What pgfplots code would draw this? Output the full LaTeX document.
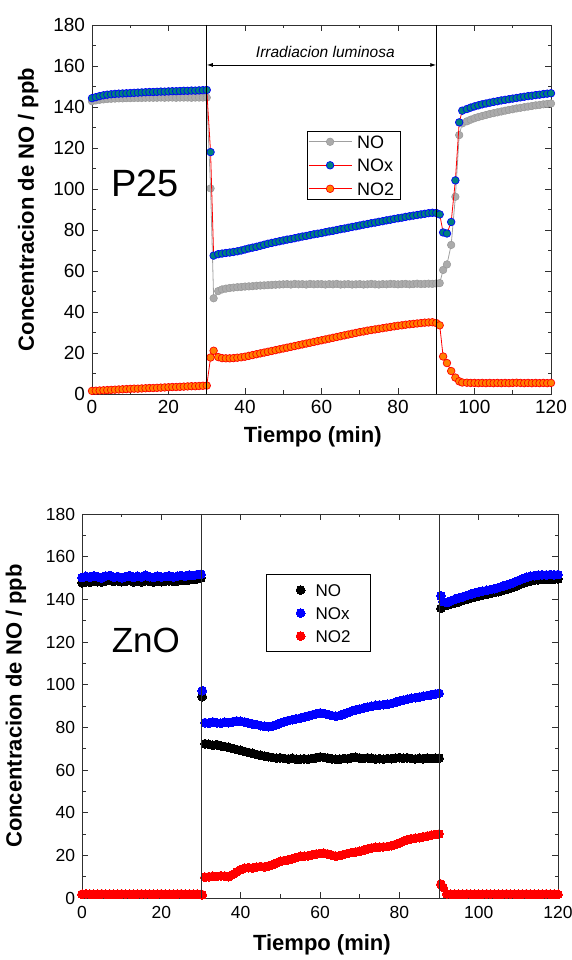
\documentclass[border=0pt]{standalone}
\usepackage{fontspec}
\setmainfont{Liberation Sans}
\usepackage{pgfplots}
\pgfplotsset{compat=1.18}
\usepackage{pgfplotstable}
\usetikzlibrary{arrows.meta}

\definecolor{nogray}{HTML}{A0A0A0}
\definecolor{grayfill}{HTML}{ABABAB}
\definecolor{grayedge}{HTML}{989898}
\definecolor{tealfill}{HTML}{00807F}
\definecolor{orangefill}{HTML}{FF7F00}
\definecolor{frame}{HTML}{303030}

\pgfplotstableread{
t NO NOx NO2
0 142.8 144.3 1.5
1 143.2 144.8 1.6
2 143.5 145.3 1.7
3 143.7 145.7 1.8
4 143.9 146.0 1.9
5 144.0 146.2 2.0
6 144.1 146.4 2.1
7 144.2 146.5 2.2
8 144.2 146.6 2.3
9 144.3 146.7 2.4
10 144.3 146.8 2.5
11 144.4 146.9 2.6
12 144.4 147.0 2.6
13 144.4 147.1 2.7
14 144.5 147.2 2.8
15 144.5 147.3 2.9
16 144.5 147.3 2.9
17 144.5 147.4 3.0
18 144.6 147.5 3.1
19 144.5 147.5 3.2
20 144.6 147.6 3.3
21 144.6 147.7 3.4
22 144.5 147.7 3.4
23 144.6 147.8 3.5
24 144.6 147.9 3.6
25 144.6 147.9 3.7
26 144.5 148.0 3.8
27 144.6 148.0 3.8
28 144.6 148.1 3.9
29 144.6 148.2 4.0
30 144.6 148.3 4.1
31 100.3 118.0 17.8
31.8 46.7 67.5 21.1
33 50.2 68.2 18.0
34 51.0 68.5 17.5
35 51.4 68.8 17.4
36 51.7 69.0 17.4
37 51.9 69.3 17.5
38 52.1 69.6 17.7
39 52.2 70.0 17.9
40 52.4 70.5 18.2
41 52.5 71.0 18.6
42 52.6 71.4 19.0
43 52.8 71.8 19.4
44 52.9 72.3 19.8
45 53.0 72.8 20.2
46 53.1 73.3 20.6
47 53.2 73.7 21.0
48 53.3 74.1 21.4
49 53.4 74.5 21.8
50 53.5 74.9 22.2
51 53.6 75.3 22.6
52 53.4 75.6 23.0
53 53.7 76.0 23.4
54 53.5 76.4 23.8
55 53.6 76.8 24.2
56 53.4 77.1 24.6
57 53.7 77.5 25.0
58 53.5 77.9 25.4
59 53.6 78.2 25.8
60 53.6 78.5 26.2
61 53.4 78.9 26.6
62 53.6 79.3 27.0
63 53.5 79.6 27.4
64 53.7 80.0 27.8
65 53.4 80.4 28.2
66 53.5 80.7 28.6
67 53.6 81.1 29.0
68 53.4 81.5 29.4
69 53.5 81.8 29.8
70 53.6 82.2 30.2
71 53.4 82.6 30.5
72 53.5 82.9 30.9
73 53.7 83.3 31.2
74 53.5 83.6 31.5
75 53.4 84.0 31.8
76 53.6 84.3 32.1
77 53.5 84.7 32.4
78 53.7 85.0 32.7
79 53.6 85.4 33.0
80 53.5 85.7 33.3
81 53.6 86.0 33.5
82 53.7 86.4 33.8
83 53.5 86.7 34.0
84 53.6 87.0 34.2
85 53.8 87.3 34.4
86 53.6 87.6 34.6
87 53.7 87.9 34.8
88 53.8 88.2 34.9
89 53.7 88.4 35.0
90 53.9 88.3 34.6
90.9 54.1 87.6 33.5
91.8 60.5 78.8 18.3
92.8 63.2 78.3 15.1
93.9 72.7 83.9 11.2
95.0 96.2 104.2 8.0
96.0 126.3 132.5 6.2
96.8 132.0 138.2 5.6
98 133.0 139.0 5.5
99 133.8 139.7 5.4
100 134.5 140.3 5.4
101 135.1 140.8 5.3
102 135.6 141.3 5.4
103 136.1 141.7 5.3
104 136.6 142.1 5.4
105 137.0 142.5 5.3
106 137.4 142.8 5.4
107 137.8 143.2 5.3
108 138.2 143.5 5.4
109 138.6 143.8 5.3
110 138.9 144.1 5.4
111 139.3 144.4 5.5
112 139.6 144.7 5.4
113 139.9 145.0 5.3
114 140.2 145.3 5.4
115 140.5 145.5 5.3
116 140.8 145.8 5.4
117 141.0 146.0 5.3
118 141.3 146.3 5.4
119 141.5 146.5 5.3
120 141.7 146.7 5.4
}\ptop

\pgfplotstableread{
t NO NOx NO2
0 147.8 150.2 1.8
1 148.2 150.8 1.9
2 148.0 150.3 1.8
3 148.5 151.0 1.7
4 148.3 150.5 1.8
5 148.1 150.0 1.9
6 148.6 150.9 1.8
7 148.9 151.2 1.8
8 148.4 150.4 1.7
9 148.7 150.7 1.8
10 148.3 150.1 1.9
11 148.5 150.6 1.8
12 148.9 151.1 1.8
13 148.2 150.3 1.7
14 148.4 150.8 1.8
15 148.2 150.5 1.9
16 148.7 151.3 1.8
17 148.5 150.6 1.8
18 148.1 150.2 1.7
19 148.6 150.9 1.8
20 148.3 150.4 1.9
21 148.5 150.7 1.8
22 148.7 151.0 1.8
23 148.4 150.5 1.7
24 148.6 150.8 1.8
25 149.0 151.2 1.9
26 148.8 150.9 1.8
27 149.2 151.4 1.8
28 149.3 151.2 1.7
29 149.6 151.6 1.8
30 150.0 151.8 1.8
30.3 94.4 97.2 1.5
31 72.3 82.2 9.8
32 72.0 82.0 10.0
33 71.6 82.5 10.2
34 71.9 82.1 10.1
35 71.3 81.9 10.4
36 71.0 82.4 10.3
37 70.6 82.2 10.0
38 70.1 82.6 11.0
39 69.6 83.0 12.2
40 69.2 82.8 13.3
41 68.7 82.5 14.0
42 68.2 82.0 14.2
43 67.8 81.6 14.1
44 67.3 81.3 14.5
45 66.9 80.8 14.8
46 66.5 80.5 14.6
47 66.2 80.3 15.0
48 65.9 80.6 15.6
49 65.6 81.2 16.4
50 65.7 82.0 17.2
51 65.4 82.6 17.6
52 65.2 83.2 17.9
53 65.5 83.6 18.4
54 65.1 84.0 19.0
55 65.0 84.3 19.5
56 65.3 84.8 19.6
57 65.1 85.3 19.8
58 65.4 85.8 20.2
59 65.8 86.3 20.6
60 66.1 86.7 20.9
61 65.9 86.5 21.0
62 65.6 86.0 20.6
63 65.2 85.5 20.1
64 65.0 85.2 19.6
65 65.1 85.5 19.9
66 65.4 86.2 20.4
67 65.3 86.9 20.9
68 65.8 87.6 21.3
69 66.0 88.2 21.6
70 65.6 88.6 21.9
71 65.4 89.0 22.4
72 65.7 89.5 23.0
73 65.5 89.9 23.5
74 65.2 90.3 23.8
75 65.3 90.5 23.9
76 65.1 90.6 24.0
77 65.4 90.8 24.1
78 65.3 91.2 24.5
79 65.6 91.7 25.1
80 65.8 92.3 25.8
81 65.5 92.8 26.6
82 65.7 93.2 27.3
83 65.4 93.6 27.8
84 65.2 93.9 28.0
85 65.5 94.2 28.3
86 65.3 94.6 28.7
87 65.6 94.9 29.0
88 65.4 95.3 29.4
89 65.5 95.6 29.8
90 65.6 96.0 30.0
90.5 135.8 141.6 6.5
91 137.0 139.0 5.0
92 137.3 138.5 1.9
93 137.8 139.3 1.8
94 138.4 140.0 1.8
95 138.9 140.6 1.7
96 139.5 141.2 1.8
97 140.0 141.8 1.9
98 140.6 142.4 1.8
99 141.1 143.0 1.8
100 141.6 143.5 1.7
101 142.0 143.9 1.8
102 142.4 144.2 1.9
103 142.8 144.6 1.8
104 143.2 145.0 1.8
105 143.6 145.5 1.7
106 144.1 146.1 1.8
107 144.6 146.7 1.9
108 145.2 147.3 1.8
109 145.9 148.0 1.8
110 146.6 148.8 1.7
111 147.4 149.6 1.8
112 148.1 150.3 1.9
113 148.6 150.8 1.8
114 149.0 151.1 1.8
115 149.2 151.3 1.7
116 149.3 151.5 1.8
117 149.4 151.4 1.9
118 149.4 151.6 1.8
119 149.5 151.5 1.8
120 149.6 151.6 1.7
}\pbot

\pgfplotsset{
  common/.style={
    scale only axis,
    anchor=south west,
    xmin=0, xmax=120, ymin=0, ymax=180,
    xtick={0,20,...,120}, ytick={0,20,...,180},
    minor x tick num=1, minor y tick num=1,
    tick align=inside,
    major tick length=6pt, minor tick length=3.5pt,
    every tick/.style={frame, line width=0.8pt},
    axis line style={draw=frame, line width=0.9pt},
    /pgf/number format/assume math mode=true,
    clip mode=individual,
    legend cell align=left,
  }
}

\begin{document}
\begin{tikzpicture}[x=1pt,y=1pt]
\path[use as bounding box] (0,0) rectangle (571,960);

% ---------------- P25 ----------------
\begin{axis}[common,
  at={(92pt,566pt)}, width=459pt, height=369pt,
  ticklabel style={font=\fontsize{19}{19}\selectfont},
  xticklabel style={yshift=-3pt},
  yticklabel style={xshift=-3.5pt},
  xlabel={Tiempo (min)},
  ylabel={Concentracion de NO / ppb},
  xlabel style={font=\bfseries\fontsize{22}{22}\selectfont, at={(axis description cs:0.481,-0.116)}, anchor=center},
  ylabel style={font=\bfseries\fontsize{22}{22}\selectfont, at={(axis description cs:-0.139,0.5)}, anchor=center},
  legend image code/.code={\draw[mark repeat=2,mark phase=2] plot coordinates {(0pt,0pt)(21.5pt,0pt)(43pt,0pt)};},
  legend style={at={(axis description cs:0.468,0.713)}, anchor=north west,
    draw=black, line width=0.8pt, inner xsep=1pt, inner ysep=2pt, row sep=6.5pt, column sep=0pt,
    font=\fontsize{18}{18}\selectfont,
    nodes={inner xsep=5pt, inner ysep=2pt, text height=13pt, text depth=0pt}},
]
\addplot[color=nogray, line width=0.8pt, mark=*, mark size=3.8pt,
  mark options={fill=grayfill, draw=grayedge, line width=0.5pt}]
  table[x=t, y=NO]{\ptop};
\addplot[color=red, line width=0.8pt, mark=*, mark size=3.8pt,
  mark options={fill=tealfill, draw=blue, line width=0.7pt}]
  table[x=t, y=NOx]{\ptop};
\addplot[color=red, line width=0.8pt, mark=*, mark size=3.8pt,
  mark options={fill=orangefill, draw=red, line width=0.7pt}]
  table[x=t, y=NO2]{\ptop};
\legend{NO,NOx,NO2}
\draw[black, line width=0.9pt] (axis cs:30,0) -- (axis cs:30,180);
\draw[black, line width=0.9pt] (axis cs:90,0) -- (axis cs:90,180);
\draw[black, line width=0.9pt, {Latex[length=6pt,width=4pt]}-{Latex[length=6pt,width=4pt]}]
  (axis cs:30,160.5) -- (axis cs:90,160.5);
\node[font=\itshape\fontsize{15.5}{15.5}\selectfont] at (axis cs:61,167) {Irradiacion luminosa};
\node[font=\fontsize{38}{38}\selectfont] at (axis cs:13.9,102.9) {P25};
\end{axis}

% ---------------- ZnO ----------------
\begin{axis}[common,
  at={(82pt,62pt)}, width=476pt, height=384pt,
  ticklabel style={font=\fontsize{17.5}{17.5}\selectfont},
  xticklabel style={yshift=-5pt},
  yticklabel style={xshift=-3.3pt},
  xlabel={Tiempo (min)},
  ylabel={Concentracion de NO / ppb},
  xlabel style={font=\bfseries\fontsize{22}{22}\selectfont, at={(axis description cs:0.504,-0.122)}, anchor=center},
  ylabel style={font=\bfseries\fontsize{22}{22}\selectfont, at={(axis description cs:-0.139,0.5)}, anchor=center},
  legend image code/.code={\path[draw=none,fill=none] (0pt,-4pt) rectangle (29pt,4pt); \draw plot coordinates {(14pt,0pt)};},
  legend style={at={(axis description cs:0.387,0.844)}, anchor=north west,
    draw=black, line width=0.8pt, inner xsep=20pt, inner ysep=7.5pt, row sep=6.5pt, column sep=0pt,
    font=\fontsize{17}{17}\selectfont,
    nodes={inner xsep=0pt, inner ysep=2pt, text height=12.5pt, text depth=0pt}},
]
\addplot[only marks, color=black, mark=*, mark size=4.4pt, mark options={fill=black, draw=black, line width=0pt}]
  table[x=t, y=NO]{\pbot};
\addplot[only marks, color=blue, mark=*, mark size=4.4pt, mark options={fill=blue, draw=blue, line width=0pt}]
  table[x=t, y=NOx]{\pbot};
\addplot[only marks, color=red, mark=*, mark size=4.4pt, mark options={fill=red, draw=red, line width=0pt}]
  table[x=t, y=NO2]{\pbot};
\legend{NO,NOx,NO2}
\draw[frame, line width=0.9pt] (axis cs:30,0) -- (axis cs:30,180);
\draw[frame, line width=0.9pt] (axis cs:90,0) -- (axis cs:90,180);
\node[font=\fontsize{35}{35}\selectfont] at (axis cs:16.1,120.5) {ZnO};
\end{axis}
\end{tikzpicture}
\end{document}
